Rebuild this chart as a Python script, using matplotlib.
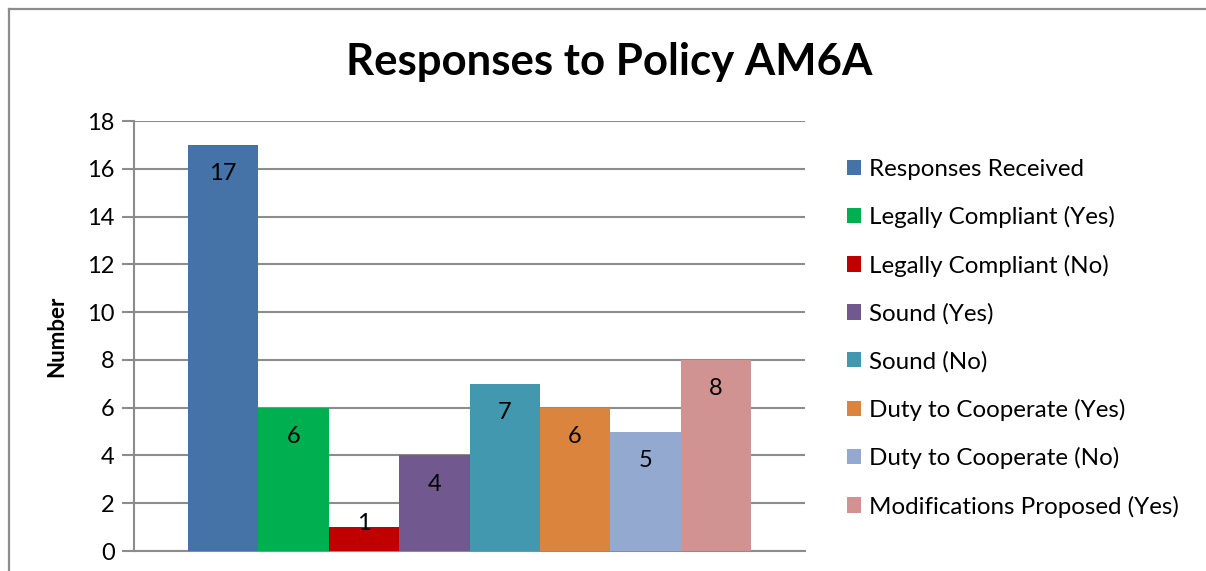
import matplotlib.pyplot as plt
from matplotlib.lines import Line2D

plt.rcParams['font.family'] = ['Lato', 'DejaVu Sans']

# counts of responses by category
categories = ['Responses Received', 'Legally Compliant (Yes)', 'Legally Compliant (No)',
              'Sound (Yes)', 'Sound (No)', 'Duty to Cooperate (Yes)',
              'Duty to Cooperate (No)', 'Modifications Proposed (Yes)']
counts = [17, 6, 1, 4, 7, 6, 5, 8]
colors = ['#4572A7', '#00B050', '#C00000', '#71588F',
          '#4198AF', '#DB843D', '#93A9CF', '#D19392']
yticks = list(range(0, 19, 2))

W, H = 1206, 571
fig = plt.figure(figsize=(W / 100, H / 100), dpi=100)

# chart area border: only left and top edges fall inside the image
bx, by = 8.5 / W, 1 - 8.5 / H
fig.add_artist(Line2D([bx, bx], [0, by], transform=fig.transFigure, color='#8c8c8c', lw=1.6))
fig.add_artist(Line2D([bx, 1.01], [by, by], transform=fig.transFigure, color='#8c8c8c', lw=1.6))

ax = fig.add_axes([134 / W, 20 / H, (805 - 134) / W, (551 - 121) / H])
grid_c = '#8c8c8c'

n = len(counts)
bw = 70.4 / 671
start = -n * bw / 2
for i, (lab, v, c) in enumerate(zip(categories, counts, colors)):
    x = start + (i + 0.5) * bw
    ax.bar(x, v, width=bw, color=c, label=lab, zorder=3)
    ty = v - 1.2 if v > 2 else v + 0.15
    ax.text(x, ty, str(v), ha='center', va='center', fontsize=17, zorder=4)

ax.set_xlim(-0.5, 0.5)
ax.set_ylim(0, 18)
ax.set_yticks(yticks)
ax.set_xticks([])
ax.yaxis.grid(True, color=grid_c, lw=1.5, zorder=0)
for s in ['top', 'right']:
    ax.spines[s].set_visible(False)
ax.spines['left'].set_color(grid_c)
ax.spines['left'].set_linewidth(1.5)
ax.spines['bottom'].set_color(grid_c)
ax.spines['bottom'].set_linewidth(1.5)
ax.tick_params(axis='y', length=9, width=1.5, color=grid_c, labelsize=17, pad=5)
ax.set_ylabel('Number', fontsize=16, fontweight='bold', labelpad=14)

fig.text(609 / W, 1 - 62 / H, 'Responses to Policy AM6A', ha='center', va='center',
         fontsize=31.5, fontweight='bold')

handles, labels = ax.get_legend_handles_labels()
fig.legend(handles, labels, loc='upper left', bbox_to_anchor=(825 / W, 1 - 137 / H),
           frameon=False, fontsize=17.4, handlelength=0.6, handleheight=0.6,
           handletextpad=0.3, labelspacing=1.09)

fig.savefig('out.png', dpi=100)
